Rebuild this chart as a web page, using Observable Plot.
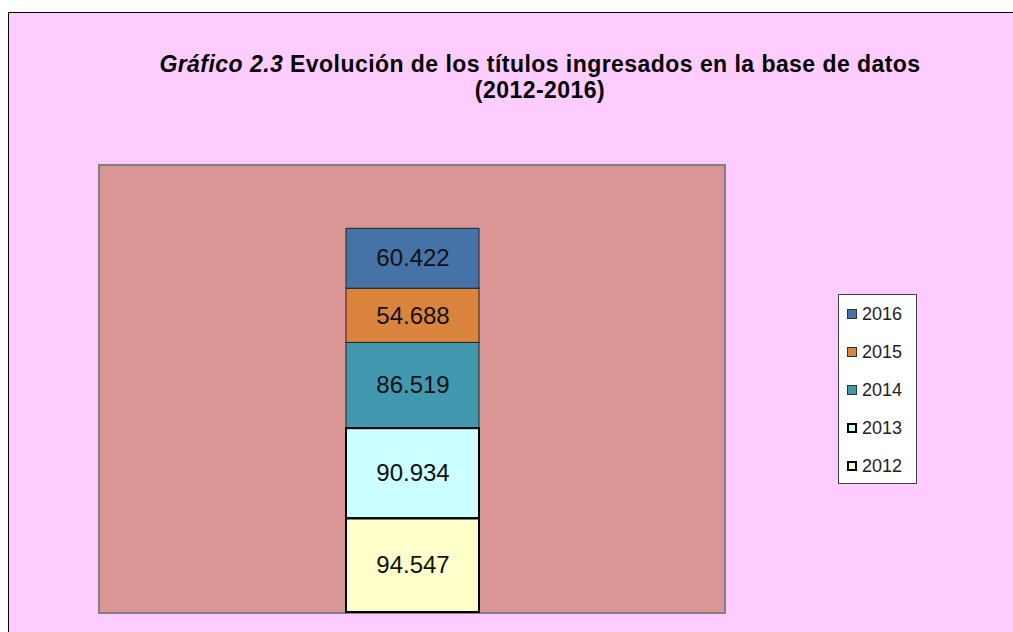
<!DOCTYPE html>
<html>
<head>
<meta charset="utf-8">
<script src="https://cdn.jsdelivr.net/npm/d3@7"></script>
<script src="https://cdn.jsdelivr.net/npm/@observablehq/plot@0.6"></script>
<style>
  html, body { margin: 0; padding: 0; background: #fff; width: 1013px; height: 632px; overflow: hidden; font-family: "Liberation Sans", Arial, sans-serif; }
  #frame { position: absolute; left: 8px; top: 12px; width: 1100px; height: 700px; background: #FFCCFF; border-left: 1.5px solid #000; border-top: 1.5px solid #000; }
  #title { position: absolute; left: 0; top: 51px; width: 1080px; text-align: center; font-weight: bold; font-size: 23px; line-height: 26px; letter-spacing: 0.45px; color: #000; }
  #title i { font-style: italic; }
  #plotbox { position: absolute; left: 98px; top: 164px; width: 624px; height: 446px; background: #D99694; border: 2px solid #808080; }
  #plotbox svg { display: block; }
  #legend { position: absolute; left: 838px; top: 294px; width: 77px; height: 188px; background: #fff; border: 1px solid #404040; }
  .li { position: absolute; left: 8px; height: 20px; font-size: 18px; line-height: 20px; color: #222; }
  .sw { display: inline-block; width: 8px; height: 8px; border: 1px solid #333; margin-right: 5px; vertical-align: 1px; }
</style>
</head>
<body>
<div id="frame"></div>
<div id="title"><i>Gráfico 2.3</i> Evolución de los títulos ingresados en la base de datos<br>(2012-2016)</div>
<div id="plotbox"></div>
<div id="legend"></div>
<script>
const category = "Títulos";
const years = ["2012", "2013", "2014", "2015", "2016"];
const values = [94547, 90934, 86519, 54688, 60422];
const colors = ["#FFFFCC", "#CCFFFF", "#4198AF", "#DB843D", "#4572A7"];

const data = years.map((y, i) => ({cat: category, year: y, value: values[i]}));
const fmt = d3.formatLocale({decimal: ",", thousands: ".", grouping: [3], currency: ["", ""]}).format(",d");

const chart = Plot.plot({
  width: 624,
  height: 446,
  margin: 0,
  x: {axis: null, padding: 0.6487},
  y: {axis: null, domain: [0, 450000]},
  color: {domain: years, range: colors},
  style: {background: "transparent", overflow: "visible"},
  marks: [
    Plot.barY(data, Plot.stackY({x: "cat", y: "value", fill: "year", stroke: "#222", strokeWidth: 1})),
    Plot.barY(data.slice(0, 2), Plot.stackY({x: "cat", y: "value", fill: "none", stroke: "#000", strokeWidth: 2})),
    Plot.text(data, Plot.stackY({x: "cat", y: "value", text: d => fmt(d.value), fill: "#111", fontSize: 24, fontFamily: "Liberation Sans, Arial, sans-serif"}))
  ]
});
document.getElementById("plotbox").appendChild(chart);

const legend = document.getElementById("legend");
const legendOrder = years.slice().reverse();
legendOrder.forEach((y, i) => {
  const idx = years.indexOf(y);
  const row = document.createElement("div");
  row.className = "li";
  row.style.top = (9 + i * 38) + "px";
  const sw = document.createElement("span");
  sw.className = "sw";
  sw.style.background = colors[idx];
  if (idx < 2) { sw.style.border = "2px solid #000"; sw.style.width = "6px"; sw.style.height = "6px"; }
  row.appendChild(sw);
  row.appendChild(document.createTextNode(y));
  legend.appendChild(row);
});
</script>
</body>
</html>
